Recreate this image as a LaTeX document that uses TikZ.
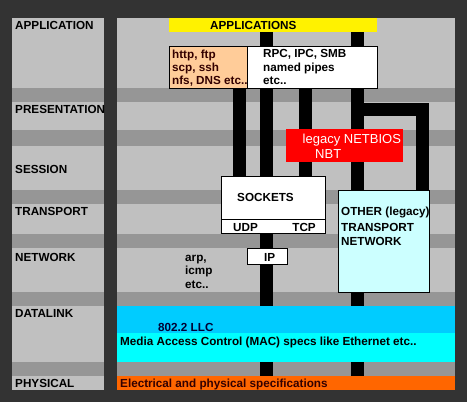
\documentclass[tikz,border=0pt]{standalone}
\usepackage{fontspec}
\setmainfont{Liberation Sans}
\usetikzlibrary{calc}
\pgfdeclarelayer{back}
\pgfdeclarelayer{bars}
\pgfsetlayers{back,bars,main}
\definecolor{bgdark}{HTML}{333333}
\definecolor{lightg}{HTML}{C0C0C0}
\definecolor{bandg}{HTML}{969696}
\definecolor{peach}{HTML}{FFCC99}
\definecolor{paleblue}{HTML}{CCFFFF}
\definecolor{skyblue}{HTML}{00CCFF}
\definecolor{aqua}{HTML}{00FFFF}
\definecolor{physor}{HTML}{FF6600}
\definecolor{darkred}{HTML}{330000}
\definecolor{darknavy}{HTML}{000033}
\begin{document}
\begin{tikzpicture}[x=1pt,y=-1pt,
  lbl/.style={font=\fontsize{11.7}{13.5}\selectfont\bfseries, inner sep=0pt, anchor=base west, text=black},
  thin/.style={font=\fontsize{13}{15}\selectfont, inner sep=0pt, anchor=base west, text=white},
  rect/.style 2 args={minimum width=#1pt, minimum height=#2pt, inner sep=0pt, outer sep=0pt, anchor=north west},
  boxed/.style={draw=black, line width=1pt},
  bar/.style={line width=13pt, draw=black}]
\useasboundingbox (0,0) rectangle (467,402);
\begin{pgfonlayer}{back}
\fill[bgdark] (0,0) rectangle (467,402);
\fill[lightg] (12,18) rectangle (104,390);
\fill[lightg] (117,18) rectangle (455,390);
\foreach \ya/\yb in {88/102,130/146,190/204,234/248,292/306,362/376}{
  \fill[bandg] (12,\ya) rectangle (104,\yb);
  \fill[bandg] (117,\ya) rectangle (455,\yb);
}
\end{pgfonlayer}

% layer names
\node[lbl] (lapp) at (15,29) {APPLICATION};
\node[lbl] (lpre) at (15,113) {PRESENTATION};
\node[lbl] (lses) at (15,173) {SESSION};
\node[lbl] (ltra) at (15,215) {TRANSPORT};
\node[lbl] (lnet) at (15,261) {NETWORK};
\node[lbl] (ldat) at (15,317) {DATALINK};
\node[lbl] (lphy) at (15,387) {PHYSICAL};

% boxes
\node[rect={208}{14}, fill=yellow] (apps) at (169,18) {};
\node[lbl] (tapps) at (210,29) {APPLICATIONS};
\node[rect={78}{42}, fill=peach, boxed] (proto) at (169,46) {};
\node[lbl, text=darkred] (t1) at (172,58) {http, ftp};
\node[lbl, text=darkred] (t2) at (172,71) {scp, ssh};
\node[lbl, text=darkred] (t3) at (172,84) {nfs, DNS etc..};
\node[rect={130}{42}, fill=white, boxed] (rpc) at (247,46) {};
\node[lbl] (r1) at (263,57.5) {RPC, IPC, SMB};
\node[lbl] (r2) at (263,71) {named pipes};
\node[lbl] (r3) at (263,84) {etc..};
\node[rect={117}{33}, fill=red] (nbt) at (286,129) {};
\node[thin] (n1) at (302.5,143) {legacy NETBIOS};
\node[thin] (n2) at (315,158) {NBT};
\node[rect={104}{57}, fill=white, boxed] (sock) at (221.5,176) {};
\draw[line width=1pt] ($(sock.south west)+(0,-14)$) coordinate (dl) -- ($(sock.south east)+(0,-14)$) coordinate (dr);
\node[lbl] (ts) at (237,201) {SOCKETS};
\node[lbl] (tu) at (233,231) {UDP};
\node[lbl, anchor=base east] (tt) at (316,231) {TCP};
\node[rect={40}{16}, fill=white, boxed] (ip) at (247,248) {};
\node[lbl] (tip) at (264,261) {IP};
\node[lbl] (a1) at (185,261) {arp,};
\node[lbl] (a2) at (185,274) {icmp};
\node[lbl] (a3) at (185,288) {etc..};
\node[rect={91}{102}, fill=paleblue, boxed] (other) at (338,190) {};
\node[lbl] (o1) at (341,215) {OTHER (legacy)};
\node[lbl] (o2) at (341,231) {TRANSPORT};
\node[lbl] (o3) at (341,245) {NETWORK};
\node[rect={338}{27}, fill=skyblue] (llc) at (117,306) {};
\node[rect={338}{29}, fill=aqua] (mac) at (117,333) {};
\node[lbl, text=darknavy] (tl) at (158,331) {802.2 LLC};
\node[lbl] (tm) at (120,345) {Media Access Control (MAC) specs like Ethernet etc..};
\node[rect={338}{14}, fill=physor] (phys) at (117,376) {};
\node[lbl, text=darkred] (tp) at (120,387) {Electrical and physical specifications};

% black connector bars
\coordinate (xA) at (239.5,0);
\coordinate (xB) at (266.5,0);
\coordinate (xC) at (305.5,0);
\coordinate (xD) at (357,0);
\coordinate (xE) at (422,0);
\coordinate (yL) at (0,109.5);
\begin{pgfonlayer}{bars}
\draw[bar] (xA |- proto.south) -- (xA |- sock.north);
\draw[bar] (xB |- apps.south) -- (xB |- phys.north);
\draw[bar] (xC |- rpc.south) -- (xC |- sock.north);
\draw[bar] (xD |- apps.south) -- (xD |- phys.north);
\draw[bar] (xD |- yL) -- (xE |- yL) -- (xE |- other.north);
\end{pgfonlayer}
\end{tikzpicture}
\end{document}
